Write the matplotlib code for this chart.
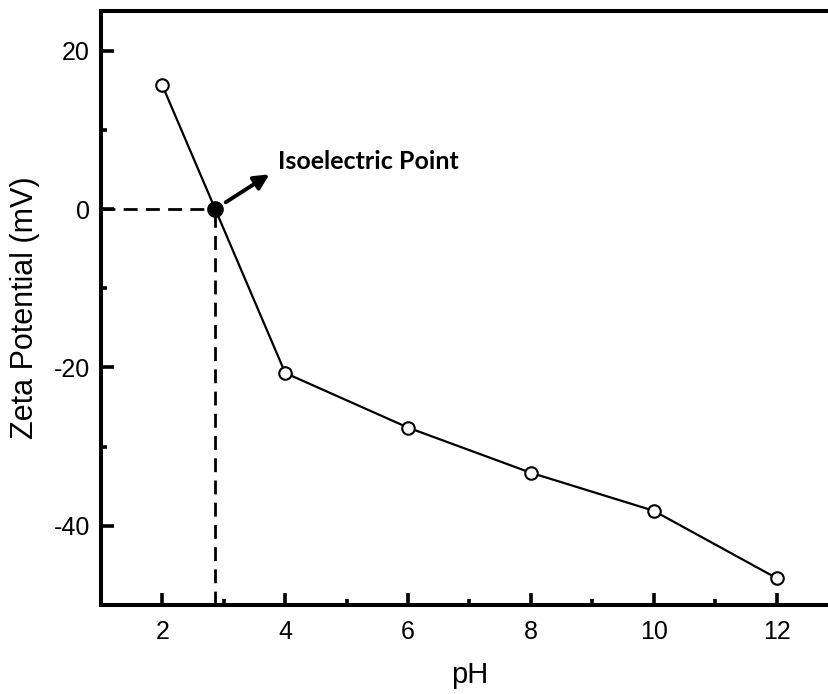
import matplotlib
matplotlib.use("Agg")
import matplotlib.pyplot as plt
from matplotlib.ticker import MultipleLocator

# measured zeta potential vs pH
ph = [2, 4, 6, 8, 10, 12]
zeta = [15.6, -20.7, -27.6, -33.3, -38.1, -46.6]

# isoelectric point (zero crossing)
iep_ph = 2.86
iep_zeta = 0.0
iep_label = "Isoelectric Point"

x_ticks = [2, 4, 6, 8, 10, 12]
y_ticks = [-40, -20, 0, 20]

plt.rcParams["font.family"] = ["Liberation Sans", "DejaVu Sans"]
plt.rcParams["axes.unicode_minus"] = False

fig = plt.figure(figsize=(8.29, 6.94), dpi=100)
# right edge of the frame runs past the picture, as in the original crop
ax = fig.add_axes([0.1218, 0.1282, 0.889, 0.8559])

ax.plot(ph, zeta, color="black", lw=1.6, marker="o", ms=9,
        mfc="white", mec="black", mew=1.5, zorder=3)

# dashed guides to the axes
ax.plot([1, iep_ph], [iep_zeta, iep_zeta], color="black", lw=2,
        dashes=(5, 3), zorder=2)
ax.plot([iep_ph, iep_ph], [-50, iep_zeta], color="black", lw=2,
        dashes=(5, 3), zorder=2)
ax.plot([iep_ph], [iep_zeta], "o", color="black", ms=11, zorder=4)

ax.annotate("", xy=(iep_ph, iep_zeta), xytext=(39, 25),
            textcoords="offset points",
            arrowprops=dict(arrowstyle="<|-,head_length=0.9,head_width=0.45",
                            color="black", lw=2.8, shrinkA=0, shrinkB=9))
ax.annotate(iep_label, xy=(iep_ph, iep_zeta), xytext=(45, 28.5),
            textcoords="offset points", fontsize=18, fontweight="bold",
            family=["Lato", "DejaVu Sans"], ha="left", va="baseline")

ax.set_xlim(1, 13)
ax.set_ylim(-50, 25)
ax.set_xticks(x_ticks)
ax.set_yticks(y_ticks)
ax.xaxis.set_minor_locator(MultipleLocator(1))
ax.yaxis.set_minor_locator(MultipleLocator(10))

ax.tick_params(which="major", direction="in", length=9, width=2.6,
               labelsize=18, top=False, right=False)
ax.tick_params(axis="x", which="major", pad=11)
ax.tick_params(axis="y", which="major", pad=8)
ax.tick_params(which="minor", direction="in", length=4.5, width=2.6,
               top=False, right=False)
for side in ["left", "bottom", "top", "right"]:
    ax.spines[side].set_linewidth(2.9)

ax.set_xlabel("pH", fontsize=21, labelpad=12)
ax.set_ylabel("Zeta Potential (mV)", fontsize=22, labelpad=10)

fig.savefig("out.png", dpi=100)
